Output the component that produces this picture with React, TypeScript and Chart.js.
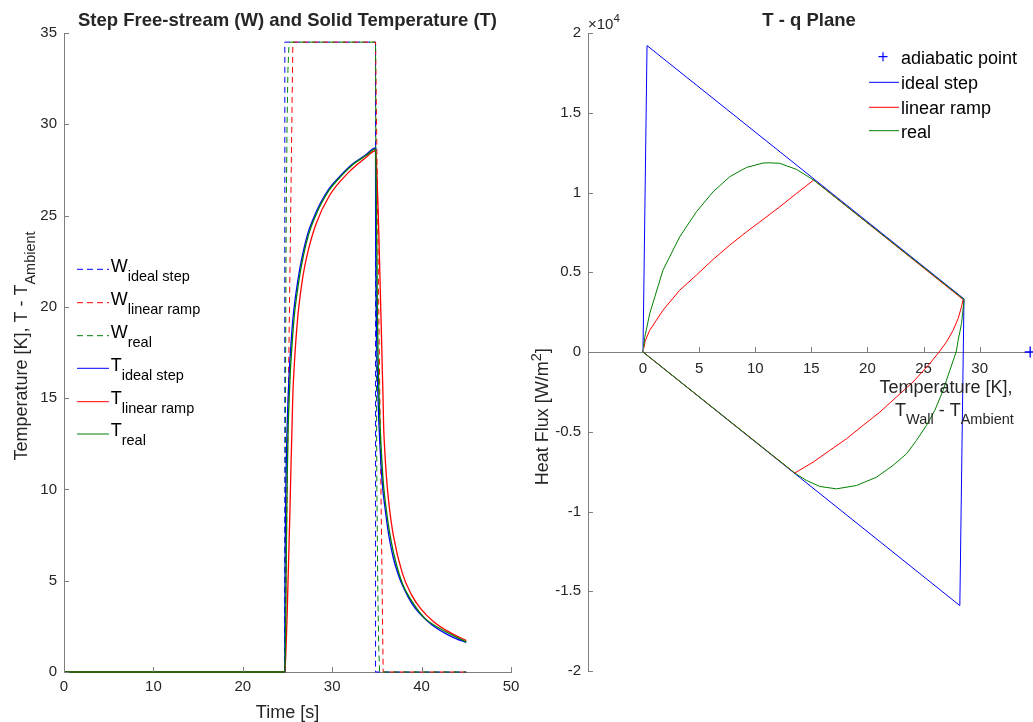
import React, { useEffect, useRef } from 'react';
import { Chart, registerables } from 'chart.js';

Chart.register(...registerables);

const FONT = "'Liberation Sans', Arial, Helvetica, sans-serif";
const INK = '#262626';
const AXIS_COLOR = '#7f7f7f';
const BLUE = '#0000ff';
const RED = '#ff0000';
const GREEN = '#008000';

// ---------- time domain: free-stream temperature W and solid temperature T ----------
const TIME_TICKS = [0, 10, 20, 30, 40, 50];
const TEMP_TICKS = [0, 5, 10, 15, 20, 25, 30, 35];

const W_IDEAL_TIME = [0, 24.7, 24.7, 34.85, 34.85, 45];
const W_IDEAL = [0, 0, 34.5, 34.5, 0, 0];

const W_RAMP_TIME = [0, 24.7, 25.6, 34.85, 35.7, 45];
const W_RAMP = [0, 0, 34.5, 34.5, 0, 0];

const W_REAL_TIME = [0, 24.7, 24.75, 24.8, 24.85, 24.95, 25.05, 25.15, 25.25, 34.85, 34.9, 34.95, 35.0, 35.1, 35.2, 35.3, 45];
const W_REAL = [0, 0, 9.5, 18.5, 24.5, 30, 33, 34.2, 34.5, 34.5, 25, 16, 10, 4.5, 1.5, 0, 0];

const T_IDEAL_TIME = [0, 24.7, 24.71, 24.74, 24.79, 24.86, 24.95, 25.06, 25.19, 25.34, 25.51, 25.7, 26.14, 26.66, 27.26, 27.94, 28.7, 29.54, 30.95, 32.2, 33.7, 34.85,
  34.86, 34.89, 34.94, 35.01, 35.1, 35.21, 35.34, 35.49, 35.66, 35.85, 36.29, 36.81, 37.41, 38.09, 38.85, 39.69, 41.1, 42.85, 43.85, 45];
const T_IDEAL = [0, 0, 3.6, 6.6, 9.2, 11.4, 13.3, 14.9, 16.4, 17.6, 18.8, 19.8, 21.4, 22.8, 24.0, 24.9, 25.7, 26.4, 27.2, 27.8, 28.3, 28.7,
  25.1, 22.1, 19.5, 17.3, 15.4, 13.8, 12.4, 11.1, 10.0, 9.2, 7.6, 6.3, 5.3, 4.5, 3.8, 3.25, 2.6, 2.06, 1.83, 1.62];

const T_RAMP_TIME = [0, 24.7, 24.87, 24.97, 25.05, 25.13, 25.21, 25.29, 25.36, 25.44, 25.52, 25.6, 25.7, 25.9, 26.2, 26.7, 27.2, 28.2, 29.7, 31.7, 33.7, 34.85,
  34.88, 34.92, 34.97, 35.02, 35.06, 35.12, 35.21, 35.29, 35.37, 35.45, 35.53, 35.6, 35.68, 35.75, 35.85, 36.05, 36.35, 36.85, 37.85, 38.85, 39.85, 41.35, 42.85, 45];
const T_RAMP = [0, 0, 1.8, 3.3, 4.8, 6.2, 7.7, 9.2, 10.7, 12.2, 13.7, 15.2, 16.3, 17.9, 19.7, 21.6, 22.85, 24.55, 26.1, 27.3, 28.15, 28.55,
  28.4, 28.1, 27.6, 27.0, 26.4, 25.6, 24.1, 22.6, 21.1, 19.6, 18.1, 16.6, 15.2, 13.5, 12.4, 10.8, 9.2, 7.45, 5.4, 4.25, 3.5, 2.75, 2.25, 1.72];

const T_REAL_TIME = [0, 24.7, 24.75, 24.8, 24.85, 24.91, 24.98, 25.07, 25.18, 25.31, 25.46, 25.63, 25.82, 26.26, 26.78, 27.38, 28.06, 28.82, 29.66, 31.07, 32.32, 33.82, 34.85,
  34.88, 34.92, 34.96, 35.0, 35.05, 35.13, 35.22, 35.33, 35.46, 35.61, 35.78, 35.97, 36.35, 36.85, 37.85, 38.85, 40.35, 42.35, 45];
const T_REAL = [0, 0, 1.0, 2.8, 5.5, 8.5, 11.0, 13.3, 14.9, 16.4, 17.6, 18.8, 19.8, 21.4, 22.8, 24.0, 24.9, 25.7, 26.4, 27.2, 27.8, 28.3, 28.65,
  28.0, 26.5, 24.5, 23.0, 19.9, 17.3, 15.4, 13.8, 12.4, 11.1, 10.0, 9.2, 7.85, 6.55, 4.85, 3.92, 2.95, 2.3, 1.64];

const LEGEND_MAIN = ['W', 'W', 'W', 'T', 'T', 'T'];
const LEGEND_SUB = ['ideal step', 'linear ramp', 'real', 'ideal step', 'linear ramp', 'real'];

// ---------- T - q plane ----------
const TQ_T_TICKS = [0, 5, 10, 15, 20, 25, 30];
const TQ_Q_TICKS = [-20000, -15000, -10000, -5000, 0, 5000, 10000, 15000, 20000];

const TQ_IDEAL_T = [0, 0.36, 28.6, 28.23, 0];
const TQ_IDEAL_Q = [0, 19210, 3330, -15900, 0];

const TQ_RAMP_T = [0, 0.2, 0.6, 1.78, 3.27, 4.76, 6.24, 7.73, 9.22, 10.7, 12.18, 13.67, 15.21, 28.52,
  28.38, 28.08, 27.63, 27.04, 26.38, 25.55, 24.06, 22.58, 21.1, 19.61, 18.13, 16.64, 15.15, 13.52, 0];
const TQ_RAMP_Q = [0, 700, 1360, 2620, 3870, 4820, 5800, 6700, 7530, 8310, 9100, 9940, 10780, 3290,
  2830, 2100, 1360, 630, 0, -730, -1880, -2820, -3770, -4600, -5440, -6170, -6910, -7590, 0];

const TQ_REAL_T = [0, 0.15, 0.6, 1.78, 3.27, 4.76, 6.24, 7.73, 9.22, 10.7, 11.29, 12.18, 13.67, 15.21, 28.61,
  28.38, 28.08, 27.9, 27.34, 26.74, 26.0, 25.26, 24.37, 23.48, 22.28, 20.8, 19.02, 17.24, 15.75, 14.56, 13.52, 0];
const TQ_REAL_Q = [0, 900, 2410, 5130, 7220, 8790, 10040, 10990, 11570, 11850, 11860, 11830, 11450, 10780, 3290,
  1780, 730, 0, -1150, -2400, -3660, -4600, -5540, -6380, -7110, -7850, -8370, -8580, -8430, -8050, -7590, 0];

const ADIABATIC_T = [34.5];
const ADIABATIC_Q = [0];

const TQ_LEGEND = ['adiabatic point', 'ideal step', 'linear ramp', 'real'];

const pts = (xs: number[], ys: number[]) => xs.map((x, i) => ({ x, y: ys[i] }));

type Run = { text: string; level: number };

function drawRuns(ctx: CanvasRenderingContext2D, x: number, y: number, runs: Run[], main: number, small: number, drop: number, rise: number) {
  let cx = x;
  for (const r of runs) {
    const size = r.level === 0 ? main : small;
    ctx.font = `${size}px ${FONT}`;
    const dy = r.level === 1 ? drop : r.level === -1 ? -rise : 0;
    ctx.fillText(r.text, cx, y + dy);
    cx += ctx.measureText(r.text).width;
  }
  return cx - x;
}

function runsWidth(ctx: CanvasRenderingContext2D, runs: Run[], main: number, small: number) {
  let w = 0;
  for (const r of runs) {
    ctx.font = `${r.level === 0 ? main : small}px ${FONT}`;
    w += ctx.measureText(r.text).width;
  }
  return w;
}

const tickCfg = (padding: number, cb?: (v: number) => string) => ({
  font: { family: FONT, size: 15 },
  color: INK,
  padding,
  maxRotation: 0,
  autoSkip: false,
  ...(cb ? { callback: (v: any) => cb(Number(v)) } : {}),
});

const gridCfg = { drawOnChartArea: false, drawTicks: false };
const borderCfg = { color: AXIS_COLOR, width: 1 };

// keep the plot area exactly where the layout padding puts it
const noLabelPadding = (s: any) => {
  s.paddingLeft = 0;
  s.paddingRight = 0;
  s.paddingTop = 0;
  s.paddingBottom = 0;
};

const timePanelDecor = {
  id: 'timePanelDecor',
  afterDraw(chart: any) {
    const { ctx, chartArea } = chart;
    const xs = chart.scales.x;
    const ys = chart.scales.y;
    ctx.save();
    // inward tick marks
    ctx.strokeStyle = AXIS_COLOR;
    ctx.lineWidth = 1;
    ctx.setLineDash([]);
    ctx.beginPath();
    xs.ticks.forEach((t: any) => {
      const px = Math.round(xs.getPixelForValue(t.value)) + 0.5;
      ctx.moveTo(px, chartArea.bottom);
      ctx.lineTo(px, chartArea.bottom - 5);
    });
    ys.ticks.forEach((t: any) => {
      const py = Math.round(ys.getPixelForValue(t.value)) + 0.5;
      ctx.moveTo(chartArea.left, py);
      ctx.lineTo(chartArea.left + 5, py);
    });
    ctx.stroke();

    ctx.fillStyle = INK;
    ctx.textBaseline = 'alphabetic';
    // title
    ctx.font = `bold 18.5px ${FONT}`;
    ctx.textAlign = 'center';
    ctx.fillText('Step Free-stream (W) and Solid Temperature (T)', (chartArea.left + chartArea.right) / 2, 26);
    // x label
    ctx.font = `18px ${FONT}`;
    ctx.fillText('Time [s]', (chartArea.left + chartArea.right) / 2, 718);
    ctx.textAlign = 'left';

    // y label (rotated, with subscript)
    const yRuns: Run[] = [{ text: 'Temperature [K], T - T', level: 0 }, { text: 'Ambient', level: 1 }];
    const w = runsWidth(ctx, yRuns, 18, 14.5);
    ctx.save();
    ctx.translate(20, 346);
    ctx.rotate(-Math.PI / 2);
    drawRuns(ctx, -w / 2, 6.5, yRuns, 18, 14.5, 8.5, 0);
    ctx.restore();

    // legend
    const rows = [269.3, 302.7, 335.7, 368.3, 401.7, 434];
    const colors = [BLUE, RED, GREEN, BLUE, RED, GREEN];
    rows.forEach((ry, i) => {
      ctx.strokeStyle = colors[i];
      ctx.lineWidth = 1;
      ctx.setLineDash(i < 3 ? [6, 4] : []);
      ctx.beginPath();
      ctx.moveTo(77, ry);
      ctx.lineTo(109, ry);
      ctx.stroke();
      ctx.setLineDash([]);
      ctx.fillStyle = '#000';
      drawRuns(ctx, 110.7, ry + 2.4, [{ text: LEGEND_MAIN[i], level: 0 }, { text: LEGEND_SUB[i], level: 1 }], 18, 14.5, 8.8, 0);
    });
    ctx.restore();
  },
};

const planeDecor = {
  id: 'planeDecor',
  afterDraw(chart: any) {
    const { ctx, chartArea } = chart;
    const xs = chart.scales.x;
    const ys = chart.scales.y;
    const y0 = ys.getPixelForValue(0);
    ctx.save();
    ctx.strokeStyle = AXIS_COLOR;
    ctx.lineWidth = 1;
    ctx.beginPath();
    xs.ticks.forEach((t: any) => {
      const px = Math.round(xs.getPixelForValue(t.value)) + 0.5;
      ctx.moveTo(px, Math.round(y0));
      ctx.lineTo(px, Math.round(y0) - 5);
    });
    ys.ticks.forEach((t: any) => {
      const py = Math.round(ys.getPixelForValue(t.value)) + 0.5;
      ctx.moveTo(chartArea.left, py);
      ctx.lineTo(chartArea.left + 5, py);
    });
    ctx.stroke();

    ctx.fillStyle = INK;
    ctx.textBaseline = 'alphabetic';
    ctx.textAlign = 'center';
    ctx.font = `bold 18.5px ${FONT}`;
    ctx.fillText('T - q Plane', (chartArea.left + chartArea.right) / 2, 26);
    ctx.textAlign = 'left';

    // exponent of the q axis
    drawRuns(ctx, chartArea.left, 29, [{ text: '\u00d710', level: 0 }, { text: '4', level: -1 }], 15, 11.5, 0, 7);

    // y label
    const yRuns: Run[] = [{ text: 'Heat Flux [W/m', level: 0 }, { text: '2', level: -1 }, { text: ']', level: 0 }];
    const w = runsWidth(ctx, yRuns, 18, 14.5);
    ctx.save();
    ctx.translate(21.5, 416.7);
    ctx.rotate(-Math.PI / 2);
    drawRuns(ctx, -w / 2, 6.5, yRuns, 18, 14.5, 0, 7.5);
    ctx.restore();

    // x label, two lines
    ctx.font = `18px ${FONT}`;
    ctx.textAlign = 'center';
    ctx.fillText('Temperature [K],', 426, 392.5);
    ctx.textAlign = 'left';
    drawRuns(ctx, 375, 416, [
      { text: 'T', level: 0 }, { text: 'Wall', level: 1 }, { text: ' - T', level: 0 }, { text: 'Ambient', level: 1 },
    ], 18, 14.5, 8.3, 0);

    // legend
    ctx.fillStyle = '#000';
    ctx.strokeStyle = BLUE;
    ctx.lineWidth = 1.2;
    ctx.beginPath();
    ctx.moveTo(363 - 4.5, 56.7);
    ctx.lineTo(363 + 4.5, 56.7);
    ctx.moveTo(363, 56.7 - 4.5);
    ctx.lineTo(363, 56.7 + 4.5);
    ctx.stroke();
    ctx.font = `18px ${FONT}`;
    ctx.fillText(TQ_LEGEND[0], 381, 63.7);
    const rows = [82.3, 107.3, 130.7];
    const colors = [BLUE, RED, GREEN];
    rows.forEach((ry, i) => {
      ctx.strokeStyle = colors[i];
      ctx.lineWidth = 1;
      ctx.beginPath();
      ctx.moveTo(349, ry);
      ctx.lineTo(379, ry);
      ctx.stroke();
      ctx.fillText(TQ_LEGEND[i + 1], 381, ry + 7);
    });
    ctx.restore();
  },
};

function timeConfig(): any {
  const line = (data: any[], color: string, dashed: boolean, order: number, smooth: boolean) => ({
    data,
    borderColor: color,
    backgroundColor: color,
    borderWidth: dashed ? 1 : 1.3,
    borderDash: dashed ? [6, 4] : [],
    showLine: true,
    pointRadius: 0,
    fill: false,
    clip: false,
    order,
    cubicInterpolationMode: smooth ? 'monotone' : 'default',
    tension: 0,
  });
  return {
    type: 'scatter',
    data: {
      datasets: [
        line(pts(W_IDEAL_TIME, W_IDEAL), BLUE, true, 6, false),
        line(pts(W_RAMP_TIME, W_RAMP), RED, true, 5, false),
        line(pts(W_REAL_TIME, W_REAL), GREEN, true, 4, false),
        line(pts(T_IDEAL_TIME, T_IDEAL), BLUE, false, 3, true),
        line(pts(T_RAMP_TIME, T_RAMP), RED, false, 2, true),
        line(pts(T_REAL_TIME, T_REAL), GREEN, false, 1, true),
      ],
    },
    options: {
      animation: false,
      responsive: false,
      devicePixelRatio: 1,
      layout: { padding: { left: 0, right: 9, top: 33, bottom: 0 } },
      plugins: { legend: { display: false }, tooltip: { enabled: false }, title: { display: false } },
      scales: {
        x: {
          type: 'linear', min: 0, max: 50,
          afterBuildTicks: (s: any) => { s.ticks = TIME_TICKS.map((v) => ({ value: v })); },
          afterFit: (s: any) => { s.height = 50; noLabelPadding(s); },
          ticks: tickCfg(6),
          grid: gridCfg,
          border: borderCfg,
        },
        y: {
          type: 'linear', min: 0, max: 35,
          afterBuildTicks: (s: any) => { s.ticks = TEMP_TICKS.map((v) => ({ value: v })); },
          afterFit: (s: any) => { s.width = 64; noLabelPadding(s); },
          ticks: tickCfg(7),
          grid: gridCfg,
          border: borderCfg,
        },
      },
    },
    plugins: [timePanelDecor],
  };
}

function planeConfig(): any {
  const line = (data: any[], color: string, order: number) => ({
    data,
    borderColor: color,
    backgroundColor: color,
    borderWidth: 1,
    showLine: true,
    pointRadius: 0,
    fill: false,
    clip: false,
    order,
    tension: 0,
  });
  return {
    type: 'scatter',
    data: {
      datasets: [
        {
          data: pts(ADIABATIC_T, ADIABATIC_Q),
          borderColor: BLUE,
          backgroundColor: BLUE,
          pointStyle: 'cross',
          pointRadius: 5.5,
          pointBorderWidth: 1.3,
          showLine: false,
          clip: false,
          order: 0,
        },
        line(pts(TQ_IDEAL_T, TQ_IDEAL_Q), BLUE, 3),
        line(pts(TQ_RAMP_T, TQ_RAMP_Q), RED, 2),
        line(pts(TQ_REAL_T, TQ_REAL_Q), GREEN, 1),
      ],
    },
    options: {
      animation: false,
      responsive: false,
      devicePixelRatio: 1,
      layout: { padding: { left: 0, right: 0, top: 33, bottom: 51 } },
      plugins: { legend: { display: false }, tooltip: { enabled: false }, title: { display: false } },
      scales: {
        x: {
          type: 'linear', min: -4.9, max: 34.5,
          position: { y: 0 },
          afterBuildTicks: (s: any) => { s.ticks = TQ_T_TICKS.map((v) => ({ value: v })); },
          afterFit: (s: any) => { noLabelPadding(s); },
          ticks: tickCfg(8),
          grid: gridCfg,
          border: borderCfg,
        },
        y: {
          type: 'linear', min: -20000, max: 20000, position: 'left',
          afterBuildTicks: (s: any) => { s.ticks = TQ_Q_TICKS.map((v) => ({ value: v })); },
          afterFit: (s: any) => { s.width = 68; noLabelPadding(s); },
          ticks: tickCfg(7, (v) => String(v / 10000)),
          grid: gridCfg,
          border: borderCfg,
        },
      },
    },
    plugins: [planeDecor],
  };
}

export default function App() {
  const leftRef = useRef<HTMLCanvasElement>(null);
  const rightRef = useRef<HTMLCanvasElement>(null);

  useEffect(() => {
    const a = new Chart(leftRef.current as HTMLCanvasElement, timeConfig());
    const b = new Chart(rightRef.current as HTMLCanvasElement, planeConfig());
    return () => {
      a.destroy();
      b.destroy();
    };
  }, []);

  return (
    <div style={{ position: 'absolute', left: 0, top: 0, width: 1033, height: 722, background: '#fff', overflow: 'hidden' }}>
      <canvas ref={leftRef} width={520} height={722} style={{ position: 'absolute', left: 0, top: 0, width: 520, height: 722 }} />
      <canvas ref={rightRef} width={517} height={722} style={{ position: 'absolute', left: 520, top: 0, width: 517, height: 722 }} />
    </div>
  );
}
